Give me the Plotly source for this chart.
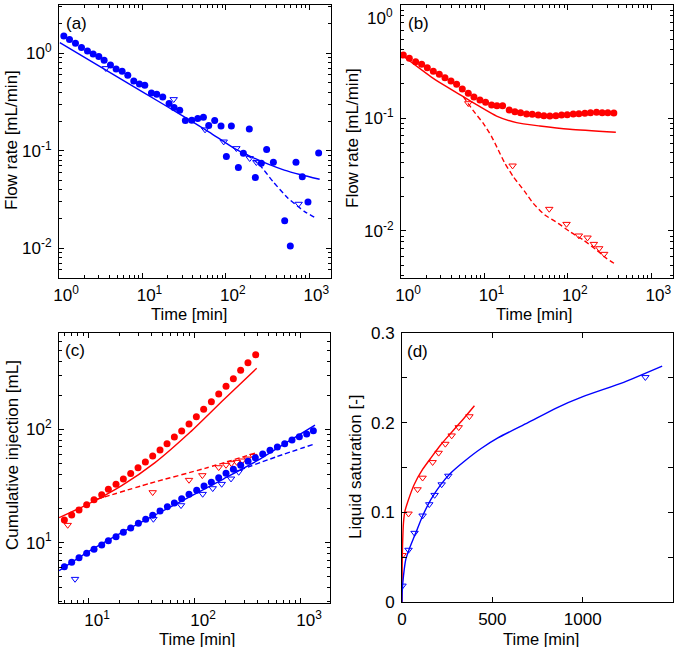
import plotly.graph_objects as go

W, H = 685, 647
BLUE = "#0000FF"
RED = "#FF0000"
FONT = "Liberation Sans, Arial, Helvetica, sans-serif"

# ---------------- panel (a) : flow rate, blue ----------------
a_dot_t = [1.143, 1.336, 1.576, 1.860, 2.194, 2.566, 3.000, 3.475, 4.139, 4.837,
           5.706, 6.673, 7.876, 9.207, 10.67, 12.82, 14.85, 17.52, 20.86, 23.95,
           28.00, 32.7, 39.0, 46.0, 53.8, 62.3, 73.5, 87.5, 101.4, 116.4,
           141.2, 162.1, 191.0, 225.5, 266, 308, 371, 507, 592, 692,
           824, 964, 1294]
a_dot_q = [1.506, 1.381, 1.266, 1.143, 1.056, 0.984, 0.924, 0.848, 0.759, 0.691,
           0.654, 0.595, 0.520, 0.485, 0.470, 0.392, 0.380, 0.356, 0.305, 0.277,
           0.260, 0.204, 0.2055, 0.2137, 0.2206, 0.1812, 0.204, 0.1798, 0.0871, 0.1798,
           0.0672, 0.0943, 0.1675, 0.0531, 0.0744, 0.1028, 0.0762, 0.0192, 0.01057, 0.0762,
           0.054, 0.0299, 0.095]
a_tri_t = [3.64, 23.7, 56.3, 94.2, 133.6, 193, 232, 745]
a_tri_q = [0.702, 0.3375, 0.1649, 0.124, 0.106, 0.0838, 0.0762, 0.0285]
a_fit_t = [1.023, 3.0, 10.0, 30.0, 63.1, 125.9, 199.5, 316.2, 501.2, 794.3, 1330]
a_fit_q = [1.285, 0.743, 0.402, 0.2296, 0.1556, 0.1059, 0.0871, 0.0733, 0.0634, 0.0568, 0.0510]
a_dash_t = [177.8, 253.5, 367.3, 555.9, 879, 1213]
a_dash_q = [0.0912, 0.0716, 0.0483, 0.0326, 0.0238, 0.0203]

# ---------------- panel (b) : flow rate, red ----------------
b_dot_t = [1.066, 1.258, 1.498, 1.768, 2.067, 2.439, 2.878, 3.365, 3.971, 4.642,
           5.427, 6.405, 7.485, 8.835, 10.33, 12.19, 14.12, 16.51, 19.83, 23.19,
           27.11, 31.99, 37.41, 44.14, 51.60, 60.85, 71.84, 84.02, 98.17, 115.9,
           135.5, 159.8, 186.8, 220.4, 257.7, 301.3, 355.5]
b_dot_q = [0.3609, 0.3373, 0.3150, 0.2985, 0.2789, 0.2588, 0.2434, 0.2275, 0.2126, 0.1986,
           0.1805, 0.1653, 0.1534, 0.1443, 0.1376, 0.1303, 0.1285, 0.1285, 0.1177, 0.1138,
           0.1115, 0.1085, 0.1077, 0.1063, 0.1049, 0.1041, 0.1049, 0.1063, 0.1070, 0.1085,
           0.1092, 0.1100, 0.1115, 0.1122, 0.1115, 0.1115, 0.1107]
b_tri_t = [6.405, 21.75, 59.8, 96.4, 135.5, 172.0, 204.8, 237.3, 272.3]
b_tri_q = [0.1348, 0.03786, 0.01566, 0.01153, 0.00910, 0.00873, 0.00767, 0.00702, 0.00626]
b_fit_t = [1.0, 2.439, 5.579, 8.835, 13.98, 24.28, 46.2, 105.7, 375.8]
b_fit_q = [0.366, 0.2244, 0.1544, 0.126, 0.1041, 0.0909, 0.0850, 0.0794, 0.0747]
b_dash_t = [5.58, 7.35, 9.68, 12.19, 14.65, 17.60, 22.15, 30.46, 38.45, 53.04,
            76.6, 105.7, 152.6, 220.4, 290.4, 369.0]
b_dash_q = [0.1544, 0.1161, 0.0897, 0.0684, 0.0521, 0.0397, 0.0303, 0.0223, 0.01757, 0.01386,
            0.01169, 0.00986, 0.00833, 0.00679, 0.00573, 0.00510]

# ---------------- panel (c) : cumulative injection ----------------
c_red_dot_t = [5.98, 7.01, 8.22, 9.71, 11.39, 13.46, 15.55, 18.37, 21.54, 25.26,
               29.64, 34.75, 40.74, 47.77, 55.63, 65.24, 76.48, 89.7, 105.2, 123.3,
               145.8, 171.0, 200.5, 235.0, 275.4, 322.8, 381.8]
c_red_dot_v = [15.85, 17.54, 19.41, 21.64, 23.94, 26.49, 29.52, 32.67, 36.41, 40.82,
               45.80, 51.40, 58.07, 65.60, 74.63, 85.45, 96.56, 111.2, 129.0, 149.9,
               175.0, 204.5, 239.2, 279.5, 331.1, 386.2, 454.6]
c_red_tri_t = [6.43, 40.74, 89.7, 119.8, 170.9, 200.4, 225.0, 252.6, 285.8, 318.5, 362.8]
c_red_tri_v = [14.31, 27.79, 35.7, 39.25, 46.16, 48.4, 50.1, 51.4, 52.9, 55.0, 58.1]
c_red_fit_t = [5.33, 10.07, 20.78, 42.86, 91.7, 189.1, 390.1]
c_red_fit_v = [16.62, 21.93, 31.82, 50.76, 93.97, 181.1, 344.5]
c_red_dash_t = [12.07, 38.5, 127.0, 390.1]
c_red_dash_v = [24.1, 33.4, 45.24, 62.2]

c_blue_dot_t = [5.98, 7.01, 8.22, 9.71, 11.39, 13.46, 15.55, 18.37, 21.54, 25.26,
                29.85, 35.0, 40.74, 47.77, 56.02, 65.24, 76.48, 89.7, 105.97, 124.3,
                145.7, 170.9, 200.4, 235.0, 275.6, 323.2, 378.9, 444.5, 521.2, 611.3,
                716.8, 840.6, 985.6, 1156, 1336]
c_blue_dot_v = [6.14, 6.71, 7.38, 8.05, 8.73, 9.54, 10.41, 11.29, 12.34, 13.47,
                14.81, 16.06, 17.42, 19.02, 20.77, 22.38, 24.43, 26.69, 28.93, 31.60,
                34.04, 37.43, 40.89, 44.35, 48.08, 52.15, 56.17, 60.52, 65.21, 69.79,
                74.64, 80.40, 86.03, 90.83, 96.96]
c_blue_tri_t = [7.54, 41.34, 75.4, 120.7, 150.1, 182.4, 223.4, 263.9]
c_blue_tri_v = [4.78, 16.17, 21.34, 26.86, 30.14, 32.91, 36.68, 42.0]
c_blue_fit_t = [5.33, 10.07, 20.78, 42.86, 91.7, 189.1, 390.1, 804.8, 1385]
c_blue_fit_v = [5.66, 8.33, 12.25, 17.54, 25.44, 36.42, 52.51, 79.88, 109.0]
c_blue_dash_t = [271.6, 602, 1336]
c_blue_dash_v = [43.74, 57.3, 73.6]

# ---------------- panel (d) : liquid saturation ----------------
d_red_tri_t = [2.8, 36.1, 86.1, 113.9, 169.5, 202.8, 239.8, 275.0, 313.9, 373.2]
d_red_tri_s = [0.0522, 0.0985, 0.1256, 0.1385, 0.1559, 0.1663, 0.1763, 0.1856, 0.1948, 0.2070]
d_red_fit_t = [0, 1, 3, 8, 16, 30.6, 67.6, 113.9, 160.2, 215.8, 271.3, 336.1, 400.9]
d_red_fit_s = [0.0, 0.04, 0.0626, 0.0880, 0.1010, 0.1110, 0.1311, 0.1478, 0.1607, 0.1756,
               0.1885, 0.2033, 0.2189]
d_blue_tri_t = [2.8, 36.1, 69.4, 113.9, 150.9, 180.6, 219.5, 256.5, 1347]
d_blue_tri_s = [0.01815, 0.0581, 0.0770, 0.0963, 0.1089, 0.1193, 0.1311, 0.1407, 0.2507]
d_blue_fit_t = [0, 1, 8.3, 21.3, 39.8, 76.9, 113.9, 160.2, 215.8, 271.3, 345.4, 438.0,
                530.6, 697.3, 856.5, 1001, 1227, 1440]
d_blue_fit_s = [0.0, 0.0107, 0.0293, 0.0478, 0.0589, 0.0774, 0.0959, 0.1144, 0.1311, 0.1441,
                0.1570, 0.1712, 0.1830, 0.2000, 0.2166, 0.2290, 0.2450, 0.2630]

log_ticks = [0.01, 0.1, 1, 10, 100, 1000]
log_text = ["10<sup>-2</sup>", "10<sup>-1</sup>", "10<sup>0</sup>",
            "10<sup>1</sup>", "10<sup>2</sup>", "10<sup>3</sup>"]

fig = go.Figure()


def line(xs, ys, color, ax, dash=None, smoothing=0.6):
    fig.add_trace(go.Scatter(x=xs, y=ys, mode="lines", xaxis=ax[0], yaxis=ax[1],
                             line=dict(color=color, width=1.4, dash=dash or "solid",
                                       shape="spline", smoothing=smoothing),
                             showlegend=False, hoverinfo="skip"))


def dots(xs, ys, color, ax):
    fig.add_trace(go.Scatter(x=xs, y=ys, mode="markers", xaxis=ax[0], yaxis=ax[1],
                             marker=dict(symbol="circle", size=7, color=color,
                                         line=dict(width=0)),
                             showlegend=False))


def tris(xs, ys, color, ax):
    fig.add_trace(go.Scatter(x=xs, y=ys, mode="markers", xaxis=ax[0], yaxis=ax[1],
                             marker=dict(symbol="triangle-down-open", size=6.5,
                                         color=color, line=dict(width=1, color=color)),
                             showlegend=False))


DASH = "5px,3px"
A, B, C, D = ("x", "y"), ("x2", "y2"), ("x3", "y3"), ("x4", "y4")

line(a_fit_t, a_fit_q, BLUE, A)
line(a_dash_t, a_dash_q, BLUE, A, DASH)
dots(a_dot_t, a_dot_q, BLUE, A)
tris(a_tri_t, a_tri_q, BLUE, A)

line(b_fit_t, b_fit_q, RED, B)
line(b_dash_t, b_dash_q, RED, B, DASH)
dots(b_dot_t, b_dot_q, RED, B)
tris(b_tri_t, b_tri_q, RED, B)

line(c_red_fit_t, c_red_fit_v, RED, C)
line(c_red_dash_t, c_red_dash_v, RED, C, DASH)
dots(c_red_dot_t, c_red_dot_v, RED, C)
tris(c_red_tri_t, c_red_tri_v, RED, C)
line(c_blue_fit_t, c_blue_fit_v, BLUE, C)
line(c_blue_dash_t, c_blue_dash_v, BLUE, C, DASH)
dots(c_blue_dot_t, c_blue_dot_v, BLUE, C)
tris(c_blue_tri_t, c_blue_tri_v, BLUE, C)

line(d_red_fit_t, d_red_fit_s, RED, D, smoothing=0.5)
line(d_blue_fit_t, d_blue_fit_s, BLUE, D, smoothing=0.6)
tris(d_red_tri_t, d_red_tri_s, RED, D)
tris(d_blue_tri_t, d_blue_tri_s, BLUE, D)

minor_log = [m * 10.0 ** e for e in range(-3, 4) for m in range(2, 10)]


def axis(domain, anchor, rng, log=True, tickvals=None, ticktext=None, minor_vals=None,
         standoff=3, shift=0):
    d = dict(domain=domain, anchor=anchor, range=rng, showline=True, linecolor="black",
             linewidth=1, mirror="ticks", ticks="inside", ticklen=5, tickwidth=1,
             tickcolor="black", showgrid=False, zeroline=False, automargin=False,
             tickfont=dict(family=FONT, size=17, color="black"),
             ticklabelstandoff=standoff, ticklabelshift=shift)
    if log:
        d.update(type="log", tickmode="array",
                 tickvals=tickvals if tickvals is not None else log_ticks,
                 ticktext=ticktext if ticktext is not None else log_text,
                 minor=dict(ticks="inside", ticklen=3, tickwidth=1, tickcolor="black",
                            showgrid=False, tickmode="array", tickvals=minor_log))
    else:
        d.update(type="linear", tickmode="array", tickvals=tickvals, ticktext=ticktext)
        if minor_vals:
            d.update(minor=dict(ticks="inside", ticklen=5, tickwidth=1, tickcolor="black",
                                showgrid=False, tickmode="array", tickvals=minor_vals))
    return d


def dx(a, b):
    return [a / W, b / W]


def dy(top, bottom):
    return [1 - bottom / H, 1 - top / H]


XS = 2
fig.update_layout(
    width=W, height=H, margin=dict(l=0, r=0, t=0, b=0),
    paper_bgcolor="white", plot_bgcolor="white",
    font=dict(family=FONT, size=17, color="black"),
    xaxis=axis(dx(59, 331), "y", [0, 3.26], standoff=XS, shift=7),
    yaxis=axis(dy(5, 278), "x", [-2.305, 0.495]),
    xaxis2=axis(dx(401, 673), "y2", [0, 3.26], standoff=XS, shift=7),
    yaxis2=axis(dy(5, 278), "x2", [-2.416, 0.0],
                tickvals=[0.01, 0.1, 1], ticktext=["10<sup>-2</sup>", "10<sup>-1</sup>", ""]),
    xaxis3=axis(dx(59, 330), "y3", [0.726, 3.283], standoff=XS, shift=9),
    yaxis3=axis(dy(333, 603), "x3", [0.468, 2.849]),
    xaxis4=axis(dx(402, 673), "y4", [0, 1500], log=False,
                tickvals=[0, 500, 1000, 1500], ticktext=["0", "500", "1000", "1500"],
                standoff=XS),
    yaxis4=axis(dy(333, 602), "x4", [0, 0.3], log=False,
                tickvals=[0, 0.1, 0.2, 0.3], ticktext=["0", "0.1", "0.2", "0.3"],
                minor_vals=[0.05, 0.15, 0.25]),
)

ann = []


def text(t, x, y, angle=0, xanchor="center", size=17):
    ann.append(dict(text=t, x=x / W, y=1 - y / H, xref="paper", yref="paper",
                    showarrow=False, textangle=angle, xanchor=xanchor, yanchor="middle",
                    font=dict(family=FONT, size=size, color="black")))


text("Time [min]", 189, 314, size=16.5)
text("Time [min]", 534, 314, size=16.5)
text("Time [min]", 197, 639, size=16.5)
text("Time [min]", 541, 639, size=16.5)
text("Flow rate [mL/min]", 12, 140, -90)
text("Flow rate [mL/min]", 352, 138, -90)
text("Cumulative injection [mL]", 12, 455, -90)
text("Liquid saturation [-]", 355, 467, -90)
text("(a)", 64, 24, xanchor="left")
text("(b)", 406, 24, xanchor="left")
text("(c)", 63, 350, xanchor="left")
text("(d)", 405, 351, xanchor="left")
text("10<sup>0</sup>", 395, 17, xanchor="right")
fig.update_layout(annotations=ann)

fig.write_html("out.html", config={"displayModeBar": False},
               post_script="document.body.style.margin='0';document.body.style.overflow='hidden';")
